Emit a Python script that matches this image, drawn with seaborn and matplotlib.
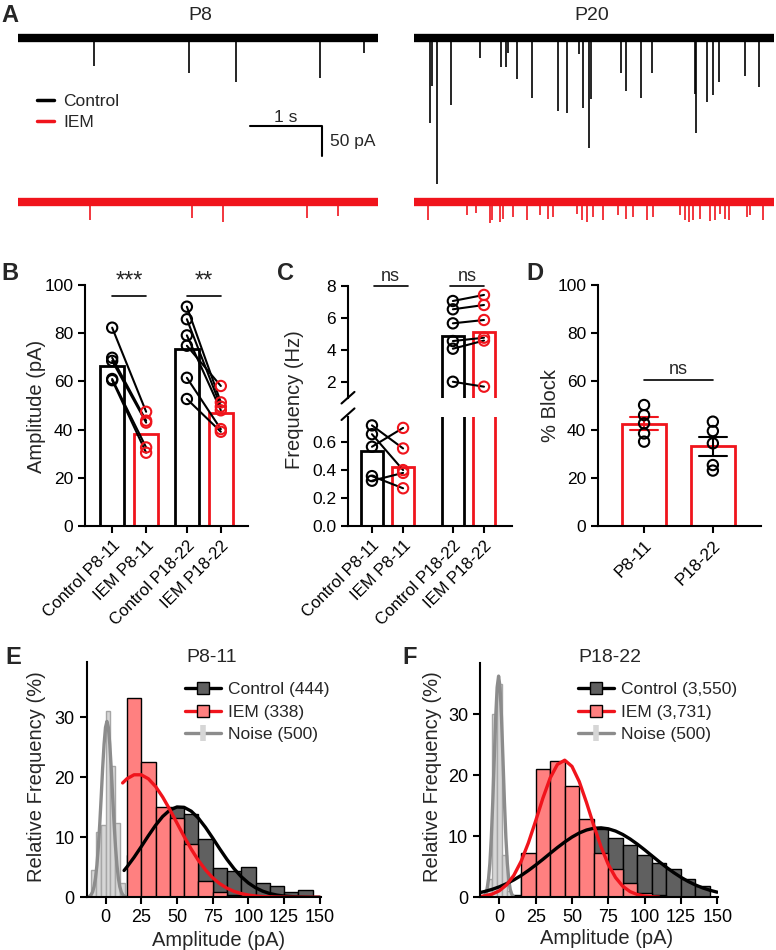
import numpy as np
import pandas as pd
import matplotlib
matplotlib.use("Agg")
import matplotlib.pyplot as plt
from matplotlib.lines import Line2D
import seaborn as sns

# ---------------- data ----------------
# A: spontaneous events, time (s) and amplitude (pA)
TRACE_LEN = 5.0
P8_CTRL_T = [1.06, 2.37, 3.03, 4.19, 4.81]
P8_CTRL_A = [47, 58, 73, 67, 25]
P8_IEM_T = [1.00, 2.42, 2.85, 4.01, 4.45]
P8_IEM_A = [30, 27, 33, 27, 23]
P20_CTRL_T = [0.22, 0.25, 0.32, 0.51, 0.92, 1.21, 1.28, 1.31, 1.43, 1.64, 2.00, 2.13, 2.29, 2.35,
              2.43, 2.46, 2.88, 2.94, 3.15, 3.31, 3.90, 3.92, 4.07, 4.15, 4.24, 4.60, 4.79]
P20_CTRL_A = [142, 80, 243, 112, 33, 48, 48, 25, 68, 100, 122, 125, 27, 117,
              183, 102, 58, 88, 100, 58, 93, 158, 107, 95, 73, 63, 82]
P20_IEM_T = [0.20, 0.73, 0.86, 1.06, 1.09, 1.19, 1.24, 1.38, 1.57, 1.75, 1.86, 1.93, 2.26, 2.34,
             2.40, 2.49, 2.63, 2.84, 2.95, 3.04, 3.23, 3.32, 3.69, 3.76, 3.82, 3.88, 3.97, 4.11,
             4.18, 4.25, 4.32, 4.37, 4.62, 4.67, 4.85]
P20_IEM_A = [30, 22, 18, 35, 30, 33, 28, 25, 30, 22, 28, 25, 20, 30,
             33, 25, 30, 22, 28, 25, 30, 25, 22, 30, 33, 30, 28, 32,
             30, 20, 28, 30, 25, 22, 30]

# B: amplitude (pA)
B_LABELS = ["Control P8-11", "IEM P8-11", "Control P18-22", "IEM P18-22"]
B_POS = [0, 1, 2.2, 3.2]
B_MEANS = [66.5, 38.0, 73.6, 47.0]
B_CTRL_P8 = [82.3, 69.8, 68.5, 61.0, 60.5]
B_IEM_P8 = [47.4, 43.7, 42.9, 32.6, 30.4]
B_CTRL_P18 = [91.0, 85.8, 79.1, 74.8, 61.5, 52.7]
B_IEM_P18 = [51.3, 49.5, 48.0, 58.1, 40.2, 39.1]

# C: frequency (Hz)
C_POS = [0, 1, 2.6, 3.6]
C_MEANS = [0.538, 0.42, 4.88, 5.12]
C_CTRL_P8 = [0.72, 0.657, 0.567, 0.357, 0.324]
C_IEM_P8 = [0.555, 0.40, 0.702, 0.27, 0.38]
C_CTRL_P18 = [7.06, 6.54, 5.66, 4.55, 4.07, 2.0]
C_IEM_P18 = [7.44, 6.81, 5.87, 4.76, 4.58, 1.69]

# D: % block
D_LABELS = ["P8-11", "P18-22"]
D_P8 = [50.2, 46.0, 42.6, 38.4, 35.0]
D_P18 = [43.3, 39.4, 34.3, 25.3, 23.0]

# E: amplitude histograms P8-11 (% per bin, bin centres)
E_CTRL_X = [10, 20, 30, 40, 50, 60, 70, 80, 90, 100, 110, 120, 130, 140]
E_CTRL = [0.2, 7.0, 12.0, 14.9, 15.1, 13.9, 9.7, 4.9, 4.3, 5.1, 2.4, 1.8, 0.9, 1.2]
E_IEM_X = [20, 30, 40, 50, 60, 70, 80, 90]
E_IEM = [33.2, 22.6, 15.1, 13.2, 8.9, 2.7, 0.8, 0.3]
E_NOISE_X = [-8.3, -5.0, -1.7, 1.7, 5.0, 8.3, 11.7]
E_NOISE = [4.5, 10.8, 12.0, 31.0, 21.8, 12.3, 2.3]
E_CTRL_FIT_X = [13] + list(range(15, 151, 5))
E_CTRL_FIT = [4.47, 5.05, 6.66, 8.43, 10.25, 11.98, 13.46, 14.52, 15.05, 14.99, 14.35, 13.19,
              11.65, 9.89, 8.06, 6.32, 4.76, 3.44, 2.39, 1.60, 1.02, 0.63, 0.37, 0.21, 0.12,
              0.06, 0.03, 0.01, 0.005]
E_IEM_FIT_X = [12] + list(range(15, 151, 5))
E_IEM_FIT = [19.05, 19.75, 20.41, 20.41, 19.75, 18.48, 16.71, 14.63, 12.38, 10.14, 8.03, 6.15,
             4.56, 3.26, 2.26, 1.52, 0.98, 0.62, 0.37, 0.22, 0.12, 0.07, 0.04, 0.02, 0.01,
             0.0, 0.0, 0.0, 0.0]
E_NOISE_FIT_X = list(range(-12, 15))
E_NOISE_FIT = [0.08, 0.2, 0.45, 0.92, 1.78, 3.20, 5.37, 8.43, 12.3, 16.8, 21.5, 25.5, 28.3, 29.3,
               28.3, 25.5, 21.5, 16.8, 12.3, 8.43, 5.37, 3.20, 1.78, 0.92, 0.45, 0.2, 0.08]

# F: amplitude histograms P18-22
F_CTRL_X = [10, 20, 30, 40, 50, 60, 70, 80, 90, 100, 110, 120, 130, 140]
F_CTRL = [0.3, 4.0, 7.0, 9.0, 10.0, 11.0, 11.2, 9.7, 8.6, 6.9, 5.7, 4.6, 3.0, 1.9]
F_IEM_X = [20, 30, 40, 50, 60, 70, 80, 90, 100, 110]
F_IEM = [7.3, 21.0, 22.3, 18.2, 12.9, 7.2, 4.6, 2.4, 0.7, 0.3]
F_NOISE_X = [-6.7, -3.3, 0.0, 3.3, 6.7]
F_NOISE = [3.0, 30.0, 35.0, 7.0, 1.0]
F_CTRL_FIT_X = [-13] + list(range(-10, 151, 5))
F_CTRL_FIT = [0.79, 0.96, 1.30, 1.72, 2.24, 2.86, 3.58, 4.40, 5.29, 6.23, 7.21, 8.17, 9.07, 9.88,
              10.55, 11.04, 11.33, 11.40, 11.24, 10.87, 10.30, 9.57, 8.72, 7.79, 6.82, 5.85,
              4.92, 4.06, 3.28, 2.60, 2.02, 1.54, 1.15, 0.84]
F_IEM_FIT_X = [-13] + list(range(-10, 111, 5))
F_IEM_FIT = [0.14, 0.23, 0.52, 1.07, 2.04, 3.61, 5.90, 8.94, 12.53, 16.28, 19.58, 21.81, 22.5,
             21.48, 18.99, 15.55, 11.79, 8.28, 5.38, 3.24, 1.80, 0.93, 0.45, 0.20, 0.08, 0.03]
F_NOISE_FIT_X = [x - 0.5 for x in range(-10, 11)]
F_NOISE_FIT = [0.20, 0.53, 1.30, 2.83, 5.57, 9.87, 15.78, 22.72, 29.48, 34.46, 36.3, 34.46,
               29.48, 22.72, 15.78, 9.87, 5.57, 2.83, 1.30, 0.53, 0.20]

# ---------------- style ----------------
RED = "#f0141c"
CTRL_FILL = "#606060"
IEM_FILL = "#ff8080"
NOISE_FILL = "#d6d6d6"
NOISE_EDGE = "#a6a6a6"
NOISE_LINE = "#8c8c8c"

sns.set_style("ticks")
plt.rcParams["font.family"] = ["Liberation Sans", "DejaVu Sans"]
plt.rcParams["axes.linewidth"] = 1.5
plt.rcParams["xtick.major.width"] = 1.5
plt.rcParams["ytick.major.width"] = 1.5
plt.rcParams["xtick.major.size"] = 5
plt.rcParams["ytick.major.size"] = 5
plt.rcParams["xtick.color"] = "black"
plt.rcParams["ytick.color"] = "black"
plt.rcParams["axes.edgecolor"] = "black"

W, H = 776, 950
fig = plt.figure(figsize=(W / 100, H / 100), dpi=100)


def fx(x):
    return x / W


def fy(y):
    return 1 - y / H


def px_axes(left, top, right, bottom):
    return fig.add_axes([left / W, 1 - bottom / H, (right - left) / W, (bottom - top) / H])


def clean(ax, bottom=True):
    sns.despine(ax=ax, bottom=not bottom)
    ax.set_xlabel("")
    ax.set_ylabel("")


# ---------------- A: traces ----------------
IEM_OFFSET = -273


def draw_trace(ax, ct, ca, it, ia):
    ax.set_xlim(0, TRACE_LEN)
    ax.set_ylim(-320, 63.3)
    ax.axis("off")
    ax.plot([0, TRACE_LEN], [0, 0], color="black", lw=6, solid_capstyle="butt")
    ax.vlines(ct, -np.array(ca), 0, color="black", lw=1.2)
    ax.plot([0, TRACE_LEN], [IEM_OFFSET, IEM_OFFSET], color=RED, lw=6, solid_capstyle="butt")
    ax.vlines(it, IEM_OFFSET - np.array(ia), IEM_OFFSET, color=RED, lw=1.2)


axA1 = px_axes(18, 0, 378, 230)
draw_trace(axA1, P8_CTRL_T, P8_CTRL_A, P8_IEM_T, P8_IEM_A)
axA2 = px_axes(414, 0, 774, 230)
draw_trace(axA2, P20_CTRL_T, P20_CTRL_A, P20_IEM_T, P20_IEM_A)

# scale bar: 1 s, 50 pA
axA1.plot([3.22, 4.22, 4.22], [-147, -147, -197], color="black", lw=1.5, clip_on=False)
axA1.text(3.72, -132, "1 s", ha="center", va="center", fontsize=12.5)
axA1.text(4.33, -172, "50 pA", ha="left", va="center", fontsize=12.5)
hA = [Line2D([], [], color="black", lw=2.5), Line2D([], [], color=RED, lw=2.5)]
axA1.legend(hA, ["Control", "IEM"], loc="upper left", bbox_to_anchor=(fx(37), fy(94)),
            bbox_transform=fig.transFigure, frameon=False, fontsize=12.5, handlelength=1.0,
            handletextpad=0.5, labelspacing=0.35, borderpad=0, borderaxespad=0)
fig.text(fx(200), fy(15), "P8", ha="center", va="center", fontsize=14)
fig.text(fx(592), fy(15), "P20", ha="center", va="center", fontsize=14)


# ---------------- helpers for bar panels ----------------
def bars(ax, pos, heights, colors, width):
    df = pd.DataFrame({"pos": pos, "val": heights, "grp": [str(p) for p in pos]})
    sns.barplot(data=df, x="pos", y="val", hue="grp", palette=dict(zip(df["grp"], colors)),
                native_scale=True, dodge=False, fill=False, width=width, linewidth=2,
                errorbar=None, legend=False, ax=ax)


def pairs(ax, x0, x1, a, b):
    rows = []
    for i, (u, v) in enumerate(zip(a, b)):
        rows += [{"cell": i, "x": x0, "y": u}, {"cell": i, "x": x1, "y": v}]
    sns.lineplot(data=pd.DataFrame(rows), x="x", y="y", units="cell", estimator=None,
                 color="black", lw=1.5, ax=ax, zorder=3)
    sns.scatterplot(x=[x0] * len(a), y=a, marker="o", s=55, facecolors="none",
                    edgecolor="black", linewidth=1.5, ax=ax, zorder=4)
    sns.scatterplot(x=[x1] * len(b), y=b, marker="o", s=55, facecolors="none",
                    edgecolor=RED, linewidth=1.5, ax=ax, zorder=4)


def sig(ax, x0, x1, y, ytext, label, size):
    ax.plot([x0, x1], [y, y], color="black", lw=1.2, clip_on=False)
    ax.text((x0 + x1) / 2, ytext, label, ha="center", va="center", fontsize=size, clip_on=False)


BAR_COLORS = ["black", RED, "black", RED]
TICK_SIZE = 12.5
ROT_SIZE = 12

# ---------------- B ----------------
axB = px_axes(85, 285, 248, 526)
bars(axB, B_POS, B_MEANS, BAR_COLORS, 0.7)
pairs(axB, B_POS[0], B_POS[1], B_CTRL_P8, B_IEM_P8)
pairs(axB, B_POS[2], B_POS[3], B_CTRL_P18, B_IEM_P18)
axB.set_xlim(-0.8, 4.0)
axB.set_ylim(0, 100)
axB.set_yticks([0, 20, 40, 60, 80, 100])
axB.set_xticks(B_POS)
axB.set_xticklabels(B_LABELS, rotation=45, ha="right", rotation_mode="anchor", fontsize=ROT_SIZE)
axB.tick_params(axis="y", labelsize=TICK_SIZE)
clean(axB)
sig(axB, 0, 1, 95.6, 101.5, "***", 17)
sig(axB, 2.2, 3.2, 95.6, 101.5, "**", 17)
fig.text(fx(36), fy(406), "Amplitude (pA)", rotation=90, ha="center", va="center", fontsize=14.5)

# ---------------- C (broken axis) ----------------
axCt = px_axes(348, 286, 512, 397.7)
axCb = px_axes(348, 417, 512, 526)
for ax in (axCt, axCb):
    bars(ax, C_POS, C_MEANS, BAR_COLORS, 0.71)
    ax.tick_params(axis="y", labelsize=TICK_SIZE)
pairs(axCb, C_POS[0], C_POS[1], C_CTRL_P8, C_IEM_P8)
pairs(axCt, C_POS[2], C_POS[3], C_CTRL_P18, C_IEM_P18)
for ax in (axCt, axCb):
    ax.set_xlim(-0.77, 4.5)
axCt.set_ylim(1.0, 8.0)
axCt.set_yticks([2, 4, 6, 8])
axCt.set_xticks([])
clean(axCt, bottom=False)
axCb.set_ylim(0, 0.78)
axCb.set_yticks([0.0, 0.2, 0.4, 0.6])
axCb.set_yticklabels(["0.0", "0.2", "0.4", "0.6"])
axCb.set_xticks(C_POS)
axCb.set_xticklabels(B_LABELS, rotation=45, ha="right", rotation_mode="anchor", fontsize=ROT_SIZE)
clean(axCb)
d = dict(color="black", lw=1.5, clip_on=False)
axCt.plot([-6.5 / 164, 6.5 / 164], [-5.8 / 111.7, 5.8 / 111.7], transform=axCt.transAxes, **d)
axCb.plot([-6.5 / 164, 6.5 / 164], [1 + (2.8 - 5.8) / 109, 1 + (2.8 + 5.8) / 109],
          transform=axCb.transAxes, **d)
sig(axCt, 0.05, 1.15, 8.0, 8.6, "ns", 13)
sig(axCt, 2.5, 3.6, 8.0, 8.6, "ns", 13)
fig.text(fx(295), fy(400), "Frequency (Hz)", rotation=90, ha="center", va="center", fontsize=14.5)

# ---------------- D ----------------
axD = px_axes(598, 285, 761, 526)
for p, vals, ecol in [(0, D_P8, RED), (1, D_P18, "black")]:
    sns.barplot(x=[p] * len(vals), y=vals, native_scale=True, fill=False, color=RED, width=0.63,
                linewidth=2, errorbar="se", capsize=0.4,
                err_kws={"color": ecol, "linewidth": 1.5}, ax=axD)
    sns.scatterplot(x=[p] * len(vals), y=vals, marker="o", s=55, facecolors="none",
                    edgecolor="black", linewidth=1.5, ax=axD, zorder=4)
axD.set_xlim(-0.67, 1.70)
axD.set_ylim(0, 100)
axD.set_yticks([0, 20, 40, 60, 80, 100])
axD.set_xticks([0, 1])
axD.set_xticklabels(D_LABELS, rotation=45, ha="right", rotation_mode="anchor", fontsize=12.5)
axD.tick_params(axis="y", labelsize=TICK_SIZE)
clean(axD)
sig(axD, 0, 1, 60.6, 65, "ns", 13)
fig.text(fx(551), fy(406), "% Block", rotation=90, ha="center", va="center", fontsize=14.5)


# ---------------- E / F histograms ----------------
def hist_panel(ax, cx, cv, ix, iv, nx, nv, cfx, cf, ifx, iff, nfx, nf, labels, leg_xy):
    sns.histplot(x=cx, weights=cv, binwidth=10, binrange=(5, 145), color=CTRL_FILL,
                 edgecolor="black", linewidth=1, alpha=1, ax=ax)
    sns.histplot(x=ix, weights=iv, binwidth=10, binrange=(15, max(ix) + 5), color=IEM_FILL,
                 edgecolor="black", linewidth=1, alpha=1, ax=ax)
    sns.histplot(x=nx, weights=nv, binwidth=3.333, binrange=(min(nx) - 1.66, max(nx) + 1.66),
                 color=NOISE_FILL, edgecolor=NOISE_EDGE, linewidth=1, alpha=1, ax=ax)
    sns.lineplot(x=nfx, y=nf, color=NOISE_LINE, lw=2.4, ax=ax)
    sns.lineplot(x=cfx, y=cf, color="black", lw=2.4, ax=ax)
    sns.lineplot(x=ifx, y=iff, color=RED, lw=2.4, ax=ax)
    ax.set_xlim(-13.3, 150.5)
    ax.set_xticks([0, 25, 50, 75, 100, 125, 150])
    ax.set_yticks([0, 10, 20, 30])
    ax.tick_params(labelsize=13)
    clean(ax)
    hs = [Line2D([], [], color="black", lw=2.4, marker="s", ms=8.5, mfc=CTRL_FILL, mec="black", mew=1),
          Line2D([], [], color=RED, lw=2.4, marker="s", ms=8.5, mfc=IEM_FILL, mec="black", mew=1),
          Line2D([], [], color=NOISE_LINE, lw=2.4, marker="|", ms=11, mec=NOISE_FILL, mew=4)]
    ax.legend(hs, labels, loc="upper left", bbox_to_anchor=(fx(leg_xy[0]), fy(leg_xy[1])),
              bbox_transform=fig.transFigure, frameon=False, fontsize=12.5, handlelength=2.1,
              handletextpad=0.4, labelspacing=0.42, borderpad=0, borderaxespad=0)


axE = px_axes(86.5, 662, 320.5, 897.3)
hist_panel(axE, E_CTRL_X, E_CTRL, E_IEM_X, E_IEM, E_NOISE_X, E_NOISE,
           E_CTRL_FIT_X, E_CTRL_FIT, E_IEM_FIT_X, E_IEM_FIT, E_NOISE_FIT_X, E_NOISE_FIT,
           ["Control (444)", "IEM (338)", "Noise (500)"], (185, 682))
axE.set_ylim(0, 39.2)

axF = px_axes(480, 663.3, 718, 897.3)
hist_panel(axF, F_CTRL_X, F_CTRL, F_IEM_X, F_IEM, F_NOISE_X, F_NOISE,
           F_CTRL_FIT_X, F_CTRL_FIT, F_IEM_FIT_X, F_IEM_FIT, F_NOISE_FIT_X, F_NOISE_FIT,
           ["Control (3,550)", "IEM (3,731)", "Noise (500)"], (578, 682))
axF.set_ylim(0, 38.4)

fig.text(fx(212), fy(657), "P8-11", ha="center", va="center", fontsize=14)
fig.text(fx(610), fy(657), "P18-22", ha="center", va="center", fontsize=14)
fig.text(fx(219), fy(940), "Amplitude (pA)", ha="center", va="center", fontsize=14.5)
fig.text(fx(607), fy(938), "Amplitude (pA)", ha="center", va="center", fontsize=14.5)
fig.text(fx(37), fy(777), "Relative Frequency (%)", rotation=90, ha="center", va="center", fontsize=14.5)
fig.text(fx(433), fy(777), "Relative Frequency (%)", rotation=90, ha="center", va="center", fontsize=14.5)

# panel letters
for letter, x, y in [("A", 10, 15), ("B", 10, 273), ("C", 285, 273), ("D", 535, 274),
                     ("E", 13, 657), ("F", 410, 657)]:
    fig.text(fx(x), fy(y), letter, ha="center", va="center", fontsize=17, fontweight="bold")

fig.savefig("out.png", dpi=100)
